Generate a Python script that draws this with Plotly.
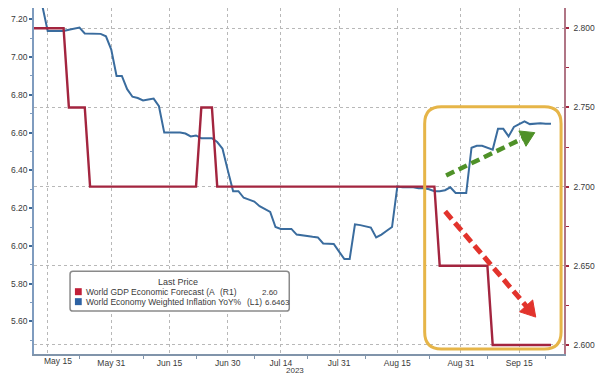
import pandas as pd
import plotly.graph_objects as go

# Trading-day calendar (weekdays only)
dates = pd.bdate_range("2023-05-10", "2023-09-25")

# World Economy Weighted Inflation YoY% (left axis, L1)
inflation = [
    7.45, 7.38, 7.27,
    7.138, 7.138, 7.138, 7.138, 7.145,
    7.152, 7.156, 7.125, 7.125, 7.125,
    7.123, 7.11, 7.04, 6.90, 6.90,
    6.83, 6.79, 6.783, 6.77, 6.775,
    6.78, 6.74, 6.60, 6.60, 6.60,
    6.60, 6.595, 6.58, 6.585, 6.57,
    6.57, 6.57, 6.55, 6.515, 6.40,
    6.29, 6.29, 6.255, 6.245, 6.235,
    6.21, 6.195, 6.18, 6.10, 6.09,
    6.09, 6.09, 6.06, 6.055, 6.05,
    6.048, 6.045, 6.013, 6.012, 6.01,
    5.97, 5.93, 5.93, 6.114, 6.11,
    6.105, 6.097, 6.045, 6.06, 6.08,
    6.10, 6.315, 6.31, 6.31, 6.31,
    6.305, 6.305, 6.30, 6.29, 6.29,
    6.295, 6.31, 6.28, 6.28, 6.28,
    6.52, 6.53, 6.53, 6.52, 6.51,
    6.62, 6.62, 6.58, 6.63, 6.645,
    6.66, 6.645, 6.648, 6.65, 6.647,
    6.6463,
]

# World GDP Economic Forecast (right axis, R1)
gdp_forecast = [
    2.80, 2.80, 2.80,
    2.80, 2.80, 2.80, 2.80, 2.75,
    2.75, 2.75, 2.75, 2.70, 2.70,
    2.70, 2.70, 2.70, 2.70, 2.70,
    2.70, 2.70, 2.70, 2.70, 2.70,
    2.70, 2.70, 2.70, 2.70, 2.70,
    2.70, 2.70, 2.70, 2.70, 2.75,
    2.75, 2.75, 2.70, 2.70, 2.70,
    2.70, 2.70, 2.70, 2.70, 2.70,
    2.70, 2.70, 2.70, 2.70, 2.70,
    2.70, 2.70, 2.70, 2.70, 2.70,
    2.70, 2.70, 2.70, 2.70, 2.70,
    2.70, 2.70, 2.70, 2.70, 2.70,
    2.70, 2.70, 2.70, 2.70, 2.70,
    2.70, 2.70, 2.70, 2.70, 2.70,
    2.70, 2.70, 2.70, 2.70, 2.65,
    2.65, 2.65, 2.65, 2.65, 2.65,
    2.65, 2.65, 2.65, 2.65, 2.60,
    2.60, 2.60, 2.60, 2.60, 2.60,
    2.60, 2.60, 2.60, 2.60, 2.60,
    2.60,
]

x_tick_dates = ["2023-05-15", "2023-05-31", "2023-06-15", "2023-06-30", "2023-07-14",
                "2023-07-31", "2023-08-15", "2023-08-31", "2023-09-15"]
x_tick_labels = ["May 15", "May 31", "Jun 15", "Jun 30", "Jul 14",
                 "Jul 31", "Aug 15", "Aug 31", "Sep 15"]
x_minor_dates = ["2023-05-23", "2023-06-08", "2023-06-22", "2023-07-07", "2023-07-21",
                 "2023-08-07", "2023-08-23", "2023-09-07", "2023-09-22"]
left_ticks = [5.60, 5.80, 6.00, 6.20, 6.40, 6.60, 6.80, 7.00, 7.20]
right_ticks = [2.60, 2.65, 2.70, 2.75, 2.80]

RED = "#a3253f"
BLUE = "#3a6c9e"
GRID = "#b8b8b8"
TXT = "#3a3a3a"
FONT = "Liberation Sans"

# plot-area box in pixels (used for decoration placement)
L, R, T, B = 34, 578, 8, 355
W, H = 603, 376


def pp(x, y):
    return (x - L) / (R - L), (B - y) / (B - T)


def pstr(x, y):
    a, b = pp(x, y)
    return f"{a:.5f},{b:.5f}"


def rounded_path(x0, y0, x1, y1, r):
    return (f"M {pstr(x0 + r, y0)} L {pstr(x1 - r, y0)} Q {pstr(x1, y0)} {pstr(x1, y0 + r)} "
            f"L {pstr(x1, y1 - r)} Q {pstr(x1, y1)} {pstr(x1 - r, y1)} "
            f"L {pstr(x0 + r, y1)} Q {pstr(x0, y1)} {pstr(x0, y1 - r)} "
            f"L {pstr(x0, y0 + r)} Q {pstr(x0, y0)} {pstr(x0 + r, y0)} Z")


def dashed_arrow(x0, y0, x1, y1, color, width, head_len, head_half, dash):
    dx, dy = x1 - x0, y1 - y0
    n = (dx * dx + dy * dy) ** 0.5
    ux, uy = dx / n, dy / n
    bx, by = x1 - ux * head_len, y1 - uy * head_len
    px_, py_ = -uy, ux
    a0 = pp(x0, y0)
    a1 = pp(bx + ux * 2, by + uy * 2)
    shaft = dict(type="line", xref="paper", yref="paper", x0=a0[0], y0=a0[1],
                 x1=a1[0], y1=a1[1], line=dict(color=color, width=width, dash=dash),
                 layer="above")
    head = dict(type="path", xref="paper", yref="paper",
                path=(f"M {pstr(x1, y1)} L {pstr(bx + px_ * head_half, by + py_ * head_half)} "
                      f"L {pstr(bx - px_ * head_half, by - py_ * head_half)} Z"),
                fillcolor=color, line=dict(color=color, width=1), layer="above")
    return [shaft, head]


fig = go.Figure()
fig.add_trace(go.Scatter(x=dates, y=gdp_forecast, yaxis="y2", mode="lines",
                         line=dict(color=RED, width=2.4), hoverinfo="skip",
                         name="World GDP Economic Forecast"))
fig.add_trace(go.Scatter(x=dates, y=inflation, yaxis="y", mode="lines",
                         line=dict(color=BLUE, width=2), hoverinfo="skip",
                         name="World Economy Weighted Inflation YoY%"))

shapes = []
# highlight box around the latest period
shapes.append(dict(type="path", xref="paper", yref="paper",
                   path=rounded_path(435, 107, 575, 350, 17),
                   line=dict(color="#e6b548", width=3), layer="above"))
shapes += dashed_arrow(457, 176, 548, 133, "#4f9128", 4.5, 14, 8.5, "9px,5px")
shapes += dashed_arrow(456, 212, 549, 318, "#e2332c", 5, 15, 9, "10px,5px")

# legend panel
shapes.append(dict(type="path", xref="paper", yref="paper",
                   path=rounded_path(71, 272, 296, 312, 3),
                   line=dict(color="#8a8a8a", width=1.5), fillcolor="white", layer="above"))
for (y0, col) in [(289, "#c01f38"), (299, "#2e62a3")]:
    a = pp(76, y0)
    b = pp(83, y0 + 7)
    shapes.append(dict(type="rect", xref="paper", yref="paper", x0=a[0], y0=a[1],
                       x1=b[0], y1=b[1], fillcolor=col, line=dict(width=0), layer="above"))

annotations = []


def text_at(x, y, s, anchor="left", size=8.5):
    a = pp(x, y)
    annotations.append(dict(xref="paper", yref="paper", x=a[0], y=a[1], text=s,
                            showarrow=False, xanchor=anchor, yanchor="middle",
                            font=dict(family=FONT, size=size, color=TXT)))


text_at(182, 283, "Last Price", "center", 9)
text_at(85, 293, "World GDP Economic Forecast (A")
text_at(223, 293, "(R1)")
text_at(266, 293, "2.60", size=8)
text_at(85, 303, "World Economy Weighted Inflation YoY%")
text_at(251, 303, "(L1)")
text_at(269, 303, "6.6463", size=8)
text_at(302, 371.5, "2023", "center", 8)

# first date label sits a little right of its gridline
annotations.append(dict(xref="x", yref="paper", x=x_tick_dates[0], y=pp(0, 362)[1],
                        text=x_tick_labels[0], showarrow=False, xanchor="center",
                        yanchor="middle", xshift=10,
                        font=dict(family=FONT, size=8.5, color=TXT)))

fig.update_layout(
    width=W, height=H,
    margin=dict(l=L, r=W - R, t=T, b=H - B),
    paper_bgcolor="white", plot_bgcolor="white",
    showlegend=False,
    font=dict(family=FONT, size=8.5, color=TXT),
    xaxis=dict(
        type="date",
        range=["2023-05-10 10:00", "2023-09-27 11:00"],
        rangebreaks=[dict(bounds=["sat", "mon"])],
        tickmode="array", tickvals=x_tick_dates,
        ticktext=[""] + x_tick_labels[1:],
        ticks="", ticklabelstandoff=0,
        tickfont=dict(family=FONT, size=8.5, color=TXT),
        showgrid=True, gridcolor=GRID, griddash="dot", gridwidth=1,
        showline=True, linecolor="#8094aa", linewidth=1.5,
        minor=dict(tickmode="array", tickvals=x_minor_dates, ticks="outside",
                   ticklen=3, tickwidth=1, tickcolor="#8094aa", showgrid=False),
        zeroline=False,
    ),
    yaxis=dict(
        range=[5.4274, 7.26],
        tickmode="array", tickvals=left_ticks, ticktext=[f"{v:.2f}" for v in left_ticks],
        ticks="outside", ticklen=3, tickwidth=2, tickcolor="#3f6a98",
        tickfont=dict(family=FONT, size=8.5, color=TXT),
        showgrid=False, zeroline=False,
        showline=True, linecolor="#7f9cbf", linewidth=1.5,
        minor=dict(dtick=0.1, tick0=5.5, ticks="outside", ticklen=2, tickwidth=1,
                   tickcolor="#7f9cbf", showgrid=False),
    ),
    yaxis2=dict(
        overlaying="y", side="right",
        range=[2.5943, 2.8128],
        tickmode="array", tickvals=right_ticks, ticktext=[f"{v:.3f}" for v in right_ticks],
        ticks="outside", ticklen=3, tickwidth=2, tickcolor="#a3253f",
        ticklabelstandoff=3,
        tickfont=dict(family=FONT, size=8.5, color=TXT),
        showgrid=True, gridcolor=GRID, griddash="dot", gridwidth=1,
        zeroline=False,
        showline=True, linecolor="#b07585", linewidth=1.5,
        minor=dict(dtick=0.025, tick0=2.575, ticks="outside", ticklen=3, tickwidth=1,
                   tickcolor="#a3253f", showgrid=False),
    ),
    shapes=shapes,
    annotations=annotations,
)

fig.write_html("out.html")
